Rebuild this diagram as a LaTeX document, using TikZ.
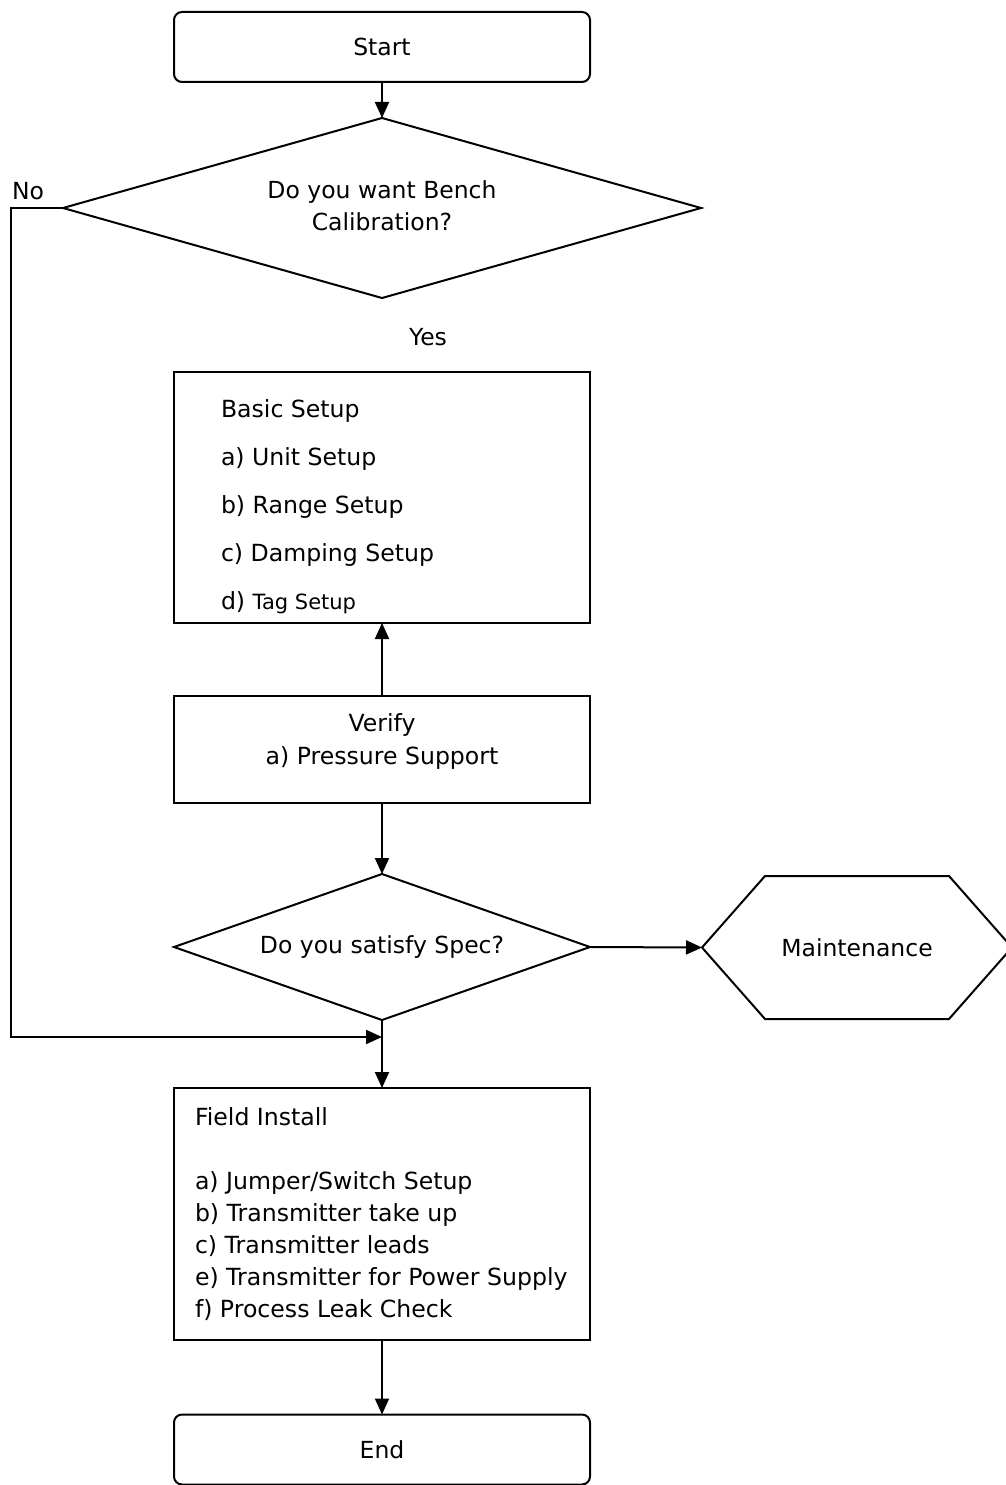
\documentclass[tikz,border=0pt]{standalone}
\usepackage{fontspec}
\setmainfont{DejaVu Sans}
\usetikzlibrary{arrows.meta,shapes.geometric}
\begin{document}
\begin{tikzpicture}[x=1pt,y=-1pt,line width=2pt,
  box/.style={draw, rectangle, minimum width=416pt, inner sep=0pt, outer sep=0pt},
  term/.style={box, rounded corners=8pt, minimum height=70pt},
  dec/.style={draw, diamond, inner sep=0pt, outer sep=0pt, align=center},
  arr/.style={-{Triangle[length=16pt,width=14pt]}},
  every node/.style={font=\fontsize{23.5}{32}\selectfont},
  plain/.style={inner sep=0pt, outer sep=0pt}]
\useasboundingbox (0,0) rectangle (1005,1485);

\node[term] (start) at (382,47) {Start};
\node[dec, aspect=3.544, minimum width=638pt, minimum height=180pt] (d1) at (382,208) {\raisebox{6pt}{\begin{tabular}{@{}c@{}}Do you want Bench\\[0pt]Calibration?\end{tabular}}};
\node[plain] (no) at (28,191) {No};
\node[plain] (yes) at (428,337) {Yes};

\node[box, minimum height=251pt] (basic) at (382,497.5) {};
\node[plain, anchor=west, align=left, font=\fontsize{23.6}{48}\selectfont] (basictext) at (221,506.5)
  {Basic Setup\\ a) Unit Setup\\ b) Range Setup\\ c) Damping Setup\\ d) {\fontsize{21}{48}\selectfont Tag Setup}};

\node[box, minimum height=107pt] (verify) at (382,749.5) {};
\node[plain, align=center, font=\fontsize{23.6}{33}\selectfont] (verifytext) at (382,741.5) {Verify\\a) Pressure Support};

\node[dec, aspect=2.85, minimum width=416pt, minimum height=146pt] (d2) at (382,947) {Do you satisfy Spec?};

\node[plain, minimum width=310pt, minimum height=143pt] (maint) at (857,947.5) {Maintenance};
\draw (maint.west) -- ([xshift=63pt]maint.north west) -- ([xshift=-63pt]maint.north east)
  -- (maint.east) -- ([xshift=-63pt]maint.south east) -- ([xshift=63pt]maint.south west) -- cycle;

\node[box, minimum height=252pt] (field) at (382,1214) {};
\node[plain, anchor=west, align=left, font=\fontsize{23.6}{32}\selectfont] (fieldtext) at (195,1214)
  {Field Install\\[32pt] a) Jumper/Switch Setup\\ b) Transmitter take up\\ c) Transmitter leads\\ e) Transmitter for Power Supply\\ f) Process Leak Check};

\node[term] (end) at (382,1449.5) {End};

\coordinate (nocorner) at (11,1037);
\coordinate (merge) at (382,1037);

\draw[arr] (start.south) -- (d1.north);
\draw[arr] (d1.west) -| (nocorner) -- (merge);
\draw[arr] (verify.north) -- (basic.south);
\draw[arr] (verify.south) -- (d2.north);
\draw[arr] (d2.east) -- (maint.west);
\draw[arr] (d2.south) -- (field.north);
\draw[arr] (field.south) -- (end.north);
\end{tikzpicture}
\end{document}
